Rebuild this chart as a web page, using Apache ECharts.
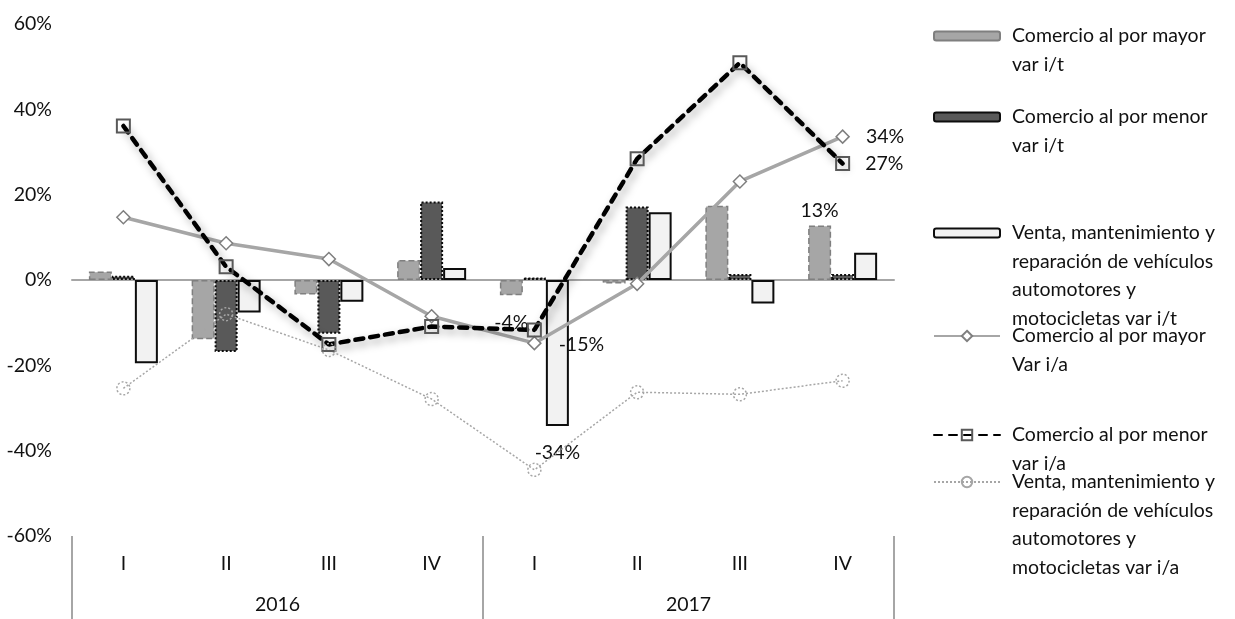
<!DOCTYPE html>
<html>
<head>
<meta charset="utf-8">
<script src="https://cdn.jsdelivr.net/npm/echarts@6/dist/echarts.min.js"></script>
<style>
html, body { margin: 0; padding: 0; background: #fff; }
#main { width: 1235px; height: 619px; }
</style>
</head>
<body>
<div id="main"></div>
<script>
// quarters and years for the two-level category axis
var quarters = ['I', 'II', 'III', 'IV', 'I', 'II', 'III', 'IV'];
var years = ['2016', '2017'];

// values in %
var mayorIt = [2.0, -13.9, -3.4, 4.7, -3.6, -0.8, 17.4, 12.8];
var menorIt = [1.0, -16.9, -12.6, 18.4, 0.6, 17.2, 1.4, 1.4];
var ventaIt = [-19.5, -7.6, -5.1, 2.8, -34.2, 15.9, -5.5, 6.4];
var mayorIa = [14.7, 8.6, 4.9, -8.5, -14.8, -0.9, 23.1, 33.6];
var menorIa = [36.1, 3.1, -15.1, -10.9, -11.7, 28.4, 50.9, 27.3];
var ventaIa = [-25.4, -8.0, -16.4, -27.9, -44.5, -26.3, -26.8, -23.6];

var legendLines = [
  ['Comercio al por mayor', 'var i/t'],
  ['Comercio al por menor', 'var i/t'],
  ['Venta, mantenimiento y', 'reparación de vehículos', 'automotores y', 'motocicletas var i/t'],
  ['Comercio al por mayor', 'Var i/a'],
  ['Comercio al por menor', 'var i/a'],
  ['Venta, mantenimiento y', 'reparación de vehículos', 'automotores y', 'motocicletas var i/a']
];
var names = legendLines.map(function (l) { return l.join(' '); });

var FONT = 'Lato';
var FS = 19.5;
var TXT = '#111';
var LH = 28.5;

function pct(p) { return Math.round(p.value) + '%'; }

// put a label on selected points
function labelled(values, labels) {
  return values.map(function (v, i) {
    if (!labels[i]) return v;
    return { value: v, label: Object.assign({ show: true, formatter: pct, fontFamily: FONT, fontSize: FS, color: TXT }, labels[i]) };
  });
}

// one legend per item; blank lines on top so the icon sits on the first text line
function legendFor(i, iconY, h) {
  var n = legendLines[i].length;
  var pad = new Array(n).join('\n');
  return {
    data: [names[i]],
    left: 933,
    top: iconY - (2 * n - 1) * LH / 2,
    padding: 0,
    itemWidth: 66,
    itemHeight: h,
    selectedMode: false,
    formatter: function () { return pad + legendLines[i].join('\n'); },
    textStyle: { fontFamily: FONT, fontSize: FS, color: TXT, lineHeight: LH, padding: [0, 0, 0, 7] }
  };
}

var chart = echarts.init(document.getElementById('main'));
chart.setOption({
  animation: false,
  backgroundColor: '#fff',
  textStyle: { fontFamily: FONT },
  grid: { left: 72, right: 341, top: 24, bottom: 83, containLabel: false },
  legend: [
    legendFor(0, 36, 9),
    legendFor(1, 117, 9),
    legendFor(2, 233, 9),
    legendFor(3, 336, 13),
    legendFor(4, 435, 13),
    legendFor(5, 482, 13)
  ],
  xAxis: [
    {
      type: 'category', data: quarters, position: 'bottom',
      axisLine: { onZero: true, lineStyle: { color: '#a6a6a6', width: 2 } },
      axisTick: { show: false }, axisLabel: { show: false }
    },
    {
      type: 'category', data: quarters, position: 'bottom',
      axisLine: { show: false, onZero: false }, axisTick: { show: false },
      axisLabel: { margin: 18, fontFamily: FONT, fontSize: FS, color: TXT }
    },
    {
      type: 'category', data: years, position: 'bottom',
      axisLine: { show: false, onZero: false },
      axisTick: { show: true, length: 83, lineStyle: { color: '#a6a6a6', width: 2 } },
      axisLabel: { margin: 59, fontFamily: FONT, fontSize: FS, color: TXT }
    }
  ],
  yAxis: {
    type: 'value', min: -60, max: 60, interval: 20,
    axisLine: { show: false }, axisTick: { show: false }, splitLine: { show: false },
    axisLabel: { formatter: '{value}%', margin: 20, fontFamily: FONT, fontSize: FS, color: TXT }
  },
  series: [
    {
      name: names[0], type: 'bar', barWidth: 23, barGap: '0%',
      itemStyle: { color: '#a6a6a6', borderColor: '#7f7f7f', borderWidth: 1.5, borderType: 'dashed' },
      data: labelled(mayorIt, { 4: { position: 'bottom', distance: 17 }, 7: { position: 'top', distance: 5 } })
    },
    {
      name: names[1], type: 'bar', barWidth: 23, barGap: '0%',
      itemStyle: { color: '#595959', borderColor: '#0d0d0d', borderWidth: 2, borderType: 'dotted' },
      data: menorIt
    },
    {
      name: names[2], type: 'bar', barWidth: 23, barGap: '0%',
      itemStyle: { color: '#f2f2f2', borderColor: '#0d0d0d', borderWidth: 2 },
      data: labelled(ventaIt, { 4: { position: 'bottom', distance: 17 } })
    },
    {
      name: names[3], type: 'line', symbol: 'diamond', symbolSize: 13,
      lineStyle: { color: '#a6a6a6', width: 3.5 },
      itemStyle: { color: '#fff', borderColor: '#7f7f7f', borderWidth: 1.5 },
      data: labelled(mayorIa, { 4: { position: 'right', distance: 17, offset: [0, 2] }, 7: { position: 'right', distance: 16 } })
    },
    {
      name: names[4], type: 'line', symbol: 'rect', symbolSize: 13,
      lineStyle: { color: '#000', width: 4.5, type: [8, 7], cap: 'round',
        shadowColor: 'rgba(0,0,0,0.35)', shadowBlur: 8, shadowOffsetX: 3, shadowOffsetY: 4 },
      itemStyle: { color: 'rgba(255,255,255,0)', borderColor: '#595959', borderWidth: 2 },
      data: labelled(menorIa, { 7: { position: 'right', distance: 15 } })
    },
    {
      name: names[5], type: 'line', symbol: 'circle', symbolSize: 13,
      lineStyle: { color: '#a6a6a6', width: 1.5, type: [2, 2] },
      itemStyle: { color: 'rgba(255,255,255,0)', borderColor: '#a6a6a6', borderWidth: 1.5, borderType: [2, 2] },
      data: ventaIa
    }
  ]
});
</script>
</body>
</html>
